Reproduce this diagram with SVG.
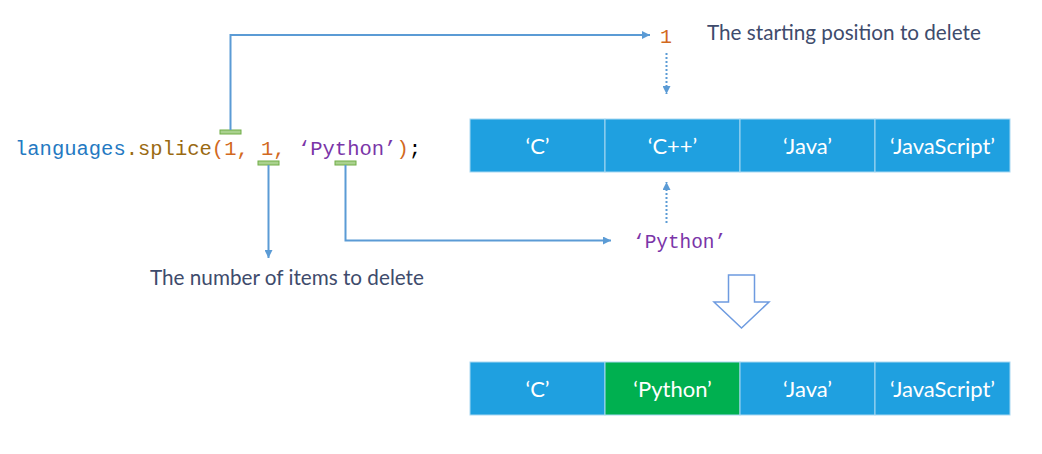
<svg xmlns="http://www.w3.org/2000/svg" width="1042" height="454" viewBox="0 0 1042 454">
<defs>
<style>
.code{font-family:"Liberation Mono","DejaVu Sans Mono",monospace;font-size:20.5px}
.lbl{font-family:Lato,"Open Sans",sans-serif;font-size:20.7px;fill:#3E4B6C}
.cell{fill:#1FA0E0;stroke:#A8D8F2;stroke-width:1}
.cellg{fill:#00B050;stroke:#A8D8F2;stroke-width:1}
.ct{font-family:Lato,"Open Sans",sans-serif;font-size:22px;fill:#FFFFFF;text-anchor:middle}
.mk{fill:#A9D18E;stroke:#70AD47;stroke-width:1}
.ln{fill:none;stroke:#5B9BD5;stroke-width:2}
.dot{fill:none;stroke:#5B9BD5;stroke-width:2;stroke-dasharray:2 2}
</style>
<marker id="ah" viewBox="0 0 10 10" refX="10" refY="5" markerWidth="4" markerHeight="4" orient="auto" markerUnits="strokeWidth">
<path d="M0,0 L10,5 L0,10 z" fill="#5B9BD5"/>
</marker>
</defs>
<rect width="1042" height="454" fill="#FFFFFF"/>

<g id="code">
<text class="code" x="15" y="155"><tspan fill="#2479C2">languages</tspan><tspan fill="#9A6A12">.splice</tspan><tspan fill="#D2691E">(1, 1, </tspan><tspan fill="#7A35A8">‘Python’</tspan><tspan fill="#D2691E">)</tspan><tspan fill="#000000">;</tspan></text>
<rect class="mk" x="220" y="130" width="21" height="4"/>
<rect class="mk" x="258" y="161" width="21" height="4"/>
<rect class="mk" x="335" y="161" width="21" height="4"/>
</g>

<g id="start-label">
<text x="660" y="43" font-family="Liberation Mono,DejaVu Sans Mono,monospace" font-size="20" fill="#D2691E">1</text>
<text class="lbl" x="707" y="40">The starting position to delete</text>
</g>

<g id="count-label">
<text class="lbl" x="150" y="285">The number of items to delete</text>
</g>

<g id="python-item">
<text class="code" x="633" y="248" fill="#7A35A8" style="font-size:19.4px">‘Python’</text>
</g>

<g id="array-before">
<rect class="cell" x="470" y="119" width="135" height="53"/>
<rect class="cell" x="605" y="119" width="135" height="53"/>
<rect class="cell" x="740" y="119" width="135" height="53"/>
<rect class="cell" x="875" y="119" width="135" height="53"/>
<text class="ct" x="537.5" y="154">‘C’</text>
<text class="ct" x="672.5" y="154">‘C++’</text>
<text class="ct" x="807.5" y="154">‘Java’</text>
<text class="ct" x="942.5" y="154">‘JavaScript’</text>
</g>

<g id="array-after">
<rect class="cell" x="470" y="362" width="135" height="53"/>
<rect class="cellg" x="605" y="362" width="135" height="53"/>
<rect class="cell" x="740" y="362" width="135" height="53"/>
<rect class="cell" x="875" y="362" width="135" height="53"/>
<text class="ct" x="537.5" y="397">‘C’</text>
<text class="ct" x="672.5" y="397">‘Python’</text>
<text class="ct" x="807.5" y="397">‘Java’</text>
<text class="ct" x="942.5" y="397">‘JavaScript’</text>
</g>

<g id="result-arrow">
<path d="M728.5,275 L754.5,275 L754.5,302 L769,302 L741.5,328 L714,302 L728.5,302 Z" fill="#FFFFFF" stroke="#6E9BE0" stroke-width="1.5"/>
</g>

<g id="connectors">
<path class="ln" d="M230.5,130 L230.5,35 L650,35" marker-end="url(#ah)"/>
<path class="ln" d="M268.5,165 L268.5,258" marker-end="url(#ah)"/>
<path class="ln" d="M345.5,165 L345.5,240.5 L611,240.5" marker-end="url(#ah)"/>
<path class="dot" d="M666.5,53 L666.5,94" marker-end="url(#ah)"/>
<path class="dot" d="M666.5,223 L666.5,182" marker-end="url(#ah)"/>
</g>
</svg>
